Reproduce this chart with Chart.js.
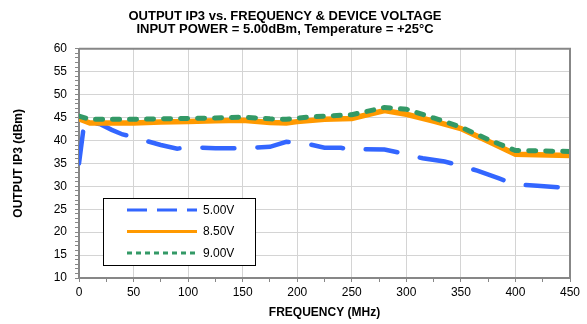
<!DOCTYPE html>
<html lang="en">
<head>
  <meta charset="UTF-8" />
  <title>OUTPUT IP3 vs. FREQUENCY & DEVICE VOLTAGE</title>
  <script src="https://cdn.jsdelivr.net/npm/chart.js"></script>
  <style>
    * { margin: 0; padding: 0; box-sizing: border-box; }
    body { background: #fff; width: 587px; height: 324px; overflow: hidden; }
    .wrap { width: 587px; height: 324px; }
  </style>
</head>
<body>
  <div class="wrap">
    <canvas id="ip3Chart" width="587" height="324"></canvas>
  </div>

  <script>
    // Series labels
    const seriesLabels = ['5.00V', '8.50V', '9.00V'];

    // 5.00V curve (MHz, dBm)
    const freq5 = [0, 5, 20, 30, 40, 50, 60, 75, 90, 100, 125, 150, 175, 190, 210, 225, 240, 250, 260, 280, 300, 315, 335, 350, 365, 385, 400, 420, 450];
    const ip3_5 = [35.0, 44.2, 43.5, 42.3, 41.3, 40.8, 40.0, 39.0, 38.2, 38.5, 38.3, 38.3, 38.6, 39.7, 39.2, 38.4, 38.4, 37.8, 38.1, 38.0, 37.0, 36.1, 35.4, 34.5, 33.4, 31.7, 30.4, 30.1, 29.6];

    // 8.50V curve
    const freq85 = [0, 10, 25, 50, 75, 100, 125, 150, 175, 190, 200, 225, 250, 280, 300, 325, 350, 375, 400, 450];
    const ip3_85 = [44.7, 43.8, 43.8, 43.8, 44.0, 44.1, 44.3, 44.4, 43.9, 43.8, 44.1, 44.6, 44.8, 46.5, 45.7, 44.2, 42.6, 39.8, 37.0, 36.7];

    // 9.00V curve
    const freq9 = [0, 10, 25, 50, 75, 100, 125, 150, 175, 190, 210, 225, 250, 280, 300, 325, 350, 375, 400, 450];
    const ip3_9 = [45.3, 44.6, 44.6, 44.6, 44.7, 44.8, 44.9, 45.1, 44.7, 44.6, 45.1, 45.3, 45.6, 47.2, 46.8, 44.9, 42.9, 40.2, 37.8, 37.6];

    // Axis ticks
    const xMin = 0, xMax = 450, xStep = 25, xLabelEvery = 50;
    const yMin = 10, yMax = 60, yStep = 1, yLabelEvery = 5;

    const FONT = "'Liberation Sans', Arial, sans-serif";
    const GRID = '#d4d4d4';
    const AXIS = '#878787';

    function pts(xs, ys) {
      return xs.map((x, i) => ({ x: x, y: ys[i] }));
    }

    // Legend drawn inside the plot, boxed
    const boxLegend = {
      id: 'boxLegend',
      afterDatasetsDraw(chart) {
        const c = chart.ctx;
        const x0 = 103, y0 = 198, w = 152, h = 67;
        c.save();
        c.fillStyle = '#fff';
        c.fillRect(x0, y0, w, h);
        c.strokeStyle = '#000';
        c.lineWidth = 1;
        c.strokeRect(x0 + 0.5, y0 + 0.5, w, h);
        const dashes = [[20, 10], [], [5, 4]];
        chart.data.datasets.forEach((ds, i) => {
          const y = y0 + 12 + i * 21.5;
          c.beginPath();
          c.setLineDash(dashes[i]);
          c.strokeStyle = ds.borderColor;
          c.lineWidth = 3;
          c.moveTo(127, y);
          c.lineTo(197, y);
          c.stroke();
          c.setLineDash([]);
          c.fillStyle = '#000';
          c.font = '12px ' + FONT;
          c.textBaseline = 'middle';
          c.fillText(ds.label, 203, y + 0.5);
        });
        c.restore();
      }
    };

    // Top and right frame of the plot area
    const frame = {
      id: 'frame',
      afterDraw(chart) {
        const a = chart.chartArea;
        const c = chart.ctx;
        c.save();
        c.strokeStyle = AXIS;
        c.lineWidth = 2;
        c.beginPath();
        c.moveTo(a.left, a.top);
        c.lineTo(a.right, a.top);
        c.lineTo(a.right, a.bottom);
        c.stroke();
        c.restore();
      }
    };

    const ctx = document.getElementById('ip3Chart').getContext('2d');
    new Chart(ctx, {
      type: 'line',
      data: {
        datasets: [
          {
            label: seriesLabels[0],
            data: pts(freq5, ip3_5),
            borderColor: '#3366ff',
            borderWidth: 4.5,
            borderDash: [32, 23],
            borderCapStyle: 'round',
            pointRadius: 0,
            tension: 0,
            order: 3
          },
          {
            label: seriesLabels[1],
            data: pts(freq85, ip3_85),
            borderColor: '#ff9900',
            borderWidth: 5.5,
            pointRadius: 0,
            tension: 0,
            order: 2
          },
          {
            label: seriesLabels[2],
            data: pts(freq9, ip3_9),
            borderColor: '#339966',
            borderWidth: 5,
            borderDash: [7, 10],
            borderCapStyle: 'round',
            pointRadius: 0,
            tension: 0,
            order: 1
          }
        ]
      },
      options: {
        responsive: false,
        animation: false,
        layout: { padding: { left: 0, right: 17, top: 0, bottom: 0 } },
        plugins: {
          legend: { display: false },
          tooltip: { enabled: false },
          title: {
            display: true,
            text: ['OUTPUT IP3 vs. FREQUENCY & DEVICE VOLTAGE', 'INPUT POWER = 5.00dBm, Temperature = +25°C'],
            color: '#000',
            font: { family: FONT, size: 13, weight: 'bold', lineHeight: 0.95 },
            padding: { top: 10.5, bottom: 13.5 }
          }
        },
        scales: {
          x: {
            type: 'linear',
            min: xMin,
            max: xMax,
            ticks: {
              stepSize: xStep,
              autoSkip: false,
              maxRotation: 0,
              padding: 3,
              color: '#000',
              font: { family: FONT, size: 12 },
              callback: v => (v % xLabelEvery === 0 ? v : '')
            },
            grid: {
              color: c => (c.tick && c.tick.value % xLabelEvery === 0 ? GRID : 'rgba(0,0,0,0)'),
              tickColor: AXIS,
              tickLength: 4
            },
            border: { color: AXIS, width: 2 },
            title: {
              display: true,
              text: 'FREQUENCY (MHz)',
              color: '#000',
              font: { family: FONT, size: 12, weight: 'bold' },
              padding: { top: 0, bottom: 4 }
            },
            afterFit: s => { s.height = 46; }
          },
          y: {
            min: yMin,
            max: yMax,
            ticks: {
              stepSize: yStep,
              autoSkip: false,
              padding: 8,
              color: '#000',
              font: { family: FONT, size: 12 },
              callback: v => (v % yLabelEvery === 0 ? v : '')
            },
            grid: {
              color: c => (c.tick && c.tick.value % yLabelEvery === 0 ? GRID : 'rgba(0,0,0,0)'),
              tickColor: AXIS,
              tickLength: 4
            },
            border: { color: AXIS, width: 2 },
            title: {
              display: true,
              text: 'OUTPUT IP3 (dBm)',
              color: '#000',
              font: { family: FONT, size: 12, weight: 'bold' },
              padding: { top: 11, bottom: 0 }
            },
            afterFit: s => { s.width = 79; }
          }
        }
      },
      plugins: [boxLegend, frame]
    });
  </script>
</body>
</html>
